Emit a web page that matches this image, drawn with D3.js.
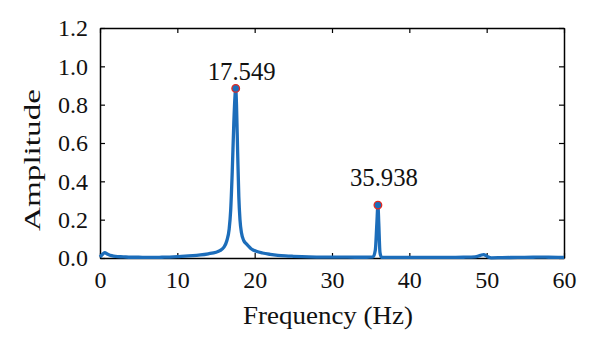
<!DOCTYPE html>
<html>
<head>
<meta charset="utf-8">
<script src="https://cdn.jsdelivr.net/npm/d3@7"></script>
<style>
  body { margin: 0; background: #fff; }
  text { font-family: "Liberation Serif", "DejaVu Serif", serif; fill: #111; }
</style>
</head>
<body>
<div id="chart"></div>
<script>
// Spectrum samples
const freq = [0, 0.3, 0.6, 1, 1.5, 2, 3, 4, 5, 6, 7, 8, 9, 10, 11, 12, 13, 14, 15, 15.5, 16, 16.4, 16.7, 16.9, 17.1, 17.3, 17.45, 17.549, 17.65, 17.8, 17.95, 18.1, 18.3, 18.6, 18.9, 19.2, 19.5, 19.8, 20.2, 21, 22, 23, 24, 25, 27, 29, 31, 33, 34.5, 35.3, 35.6, 35.8, 35.938, 36.05, 36.2, 36.4, 37, 39, 41, 43, 45, 47, 48.5, 49.2, 49.6, 50.1, 50.6, 52, 54, 56, 57, 58, 60];
const amp  = [0.005, 0.018, 0.028, 0.02, 0.012, 0.008, 0.006, 0.004, 0.004, 0.003, 0.003, 0.004, 0.005, 0.007, 0.01, 0.012, 0.016, 0.022, 0.03, 0.038, 0.055, 0.09, 0.15, 0.25, 0.45, 0.7, 0.84, 0.885, 0.8, 0.55, 0.32, 0.2, 0.13, 0.09, 0.075, 0.062, 0.05, 0.042, 0.035, 0.026, 0.019, 0.014, 0.011, 0.009, 0.006, 0.005, 0.005, 0.004, 0.004, 0.006, 0.04, 0.18, 0.276, 0.18, 0.03, 0.004, 0.003, 0.003, 0.003, 0.003, 0.003, 0.004, 0.006, 0.014, 0.018, 0.008, 0.001, 0.002, 0.003, 0.004, 0.005, 0.004, 0.003];
const peakFreq = [17.549, 35.938];
const peakAmp = [0.885, 0.276];
const peakLabels = ["17.549", "35.938"];
const xTicks = [0, 10, 20, 30, 40, 50, 60];
const yTicks = [0, 0.2, 0.4, 0.6, 0.8, 1.0, 1.2];

const W = 600, H = 351;
const margin = { top: 28, right: 36, bottom: 93, left: 100 };
const width = W - margin.left - margin.right;
const height = H - margin.top - margin.bottom;
const labelLift = [8, 19]; // label baseline above each marker

const svg = d3.select("#chart")
    .append("svg")
    .attr("width", W)
    .attr("height", H)
    .append("g")
    .attr("transform", `translate(${margin.left},${margin.top})`);

const x = d3.scaleLinear().domain([0, 60]).range([0, width]);
const y = d3.scaleLinear().domain([0, 1.2]).range([height, 0]);

// Axes with inward ticks, boxed
const tickLen = 5;
const fmtY = d3.format(".1f");

svg.append("g")
    .attr("transform", `translate(0,${height})`)
    .call(d3.axisBottom(x).tickValues(xTicks).tickSizeInner(-tickLen).tickSizeOuter(0).tickPadding(13));
svg.append("g")
    .call(d3.axisLeft(y).tickValues(yTicks).tickFormat(fmtY).tickSizeInner(-tickLen).tickSizeOuter(0).tickPadding(12));
svg.append("g")
    .call(d3.axisTop(x).tickValues(xTicks).tickFormat("").tickSizeInner(-tickLen).tickSizeOuter(0));
svg.append("g")
    .attr("transform", `translate(${width},0)`)
    .call(d3.axisRight(y).tickValues(yTicks).tickFormat("").tickSizeInner(-tickLen).tickSizeOuter(0));

svg.selectAll(".domain").attr("stroke", "#000").attr("stroke-width", 1.5);
svg.selectAll(".tick line").attr("stroke", "#000").attr("stroke-width", 1.2);
svg.selectAll(".tick text")
    .style("font-family", "'Liberation Serif', serif")
    .style("font-size", "24px")
    .attr("fill", "#111");

// Axis titles
svg.append("text")
    .attr("x", width / 2 - 4)
    .attr("y", height + 66)
    .attr("text-anchor", "middle")
    .attr("textLength", 170)
    .attr("lengthAdjust", "spacingAndGlyphs")
    .style("font-size", "26px")
    .text("Frequency (Hz)");

svg.append("text")
    .attr("transform", "rotate(-90)")
    .attr("x", -132)
    .attr("y", -60)
    .attr("text-anchor", "middle")
    .attr("textLength", 142)
    .attr("lengthAdjust", "spacingAndGlyphs")
    .style("font-size", "24px")
    .text("Amplitude");

// Spectrum line
const pts = freq.map((f, i) => [f, amp[i]]);
const line = d3.line()
    .x(d => x(d[0]))
    .y(d => y(d[1]))
    .curve(d3.curveMonotoneX);

svg.append("path")
    .datum(pts)
    .attr("fill", "none")
    .attr("stroke", "#1c6dba")
    .attr("stroke-width", 3.3)
    .attr("stroke-linejoin", "round")
    .attr("d", line);

// Peak markers
svg.selectAll(".peak")
    .data(peakFreq)
    .enter()
    .append("circle")
    .attr("cx", d => x(d))
    .attr("cy", (d, i) => y(peakAmp[i]))
    .attr("r", 3.8)
    .attr("fill", "#1c6dba")
    .attr("stroke", "#e8281e")
    .attr("stroke-width", 1.3);

svg.selectAll(".peak-label")
    .data(peakFreq)
    .enter()
    .append("text")
    .attr("x", d => x(d) + 6)
    .attr("y", (d, i) => y(peakAmp[i]) - labelLift[i])
    .attr("text-anchor", "middle")
    .attr("textLength", 68)
    .attr("lengthAdjust", "spacingAndGlyphs")
    .style("font-size", "25px")
    .text((d, i) => peakLabels[i]);
</script>
</body>
</html>
